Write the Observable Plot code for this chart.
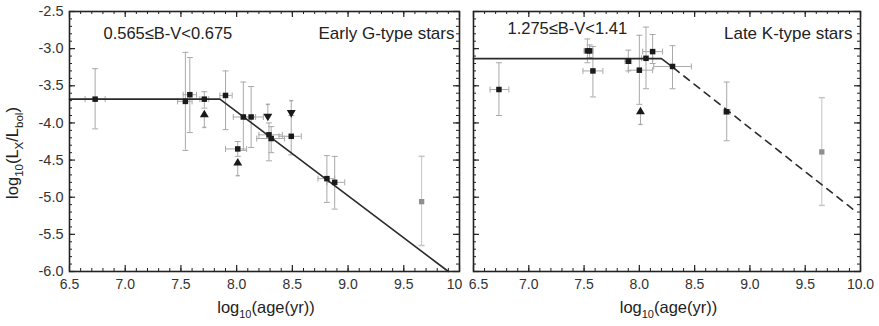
<!DOCTYPE html>
<html><head><meta charset="utf-8">
<script src="https://cdn.jsdelivr.net/npm/d3@7"></script>
<script src="https://cdn.jsdelivr.net/npm/@observablehq/plot@0.6"></script>
<style>
body{margin:0;background:#fff;}
#wrap{position:relative;width:879px;height:326px;font-family:"Liberation Sans",Arial,sans-serif;}
#wrap svg{position:absolute;left:0;top:0;}
</style></head><body><div id="wrap"></div>
<script>
// ---- tick labels ----
const xTicksMajor = [6.5, 7.0, 7.5, 8.0, 8.5, 9.0, 9.5, 10.0];
const xTickLabelsG = ["6.5", "7.0", "7.5", "8.0", "8.5", "9.0", "9.5", "10"];
const xTickLabelsK = ["6.5", "7.0", "7.5", "8.0", "8.5", "9.0", "9.5", "10.0"];
const yTicksMajor = [-2.5, -3.0, -3.5, -4.0, -4.5, -5.0, -5.5, -6.0];
const yTickLabels = ["-2.5", "-3.0", "-3.5", "-4.0", "-4.5", "-5.0", "-5.5", "-6.0"];
const panelRange = ["0.565\u2264B-V<0.675", "1.275\u2264B-V<1.41"];
const panelName = ["Early G-type stars", "Late K-type stars"];

// ---- Early G-type: detections ----
const gAge = [6.73, 7.54, 7.58, 7.71, 7.90, 8.06, 8.13, 8.01, 8.29, 8.31, 8.49, 8.81, 8.88];
const gLx  = [-3.68, -3.71, -3.62, -3.68, -3.63, -3.92, -3.92, -4.35, -4.16, -4.21, -4.18, -4.75, -4.80];
const gYlo = [-4.08, -4.37, -4.13, -3.80, -4.09, -4.37, -4.33, -4.45, -4.51, -4.40, -4.43, -5.07, -5.16];
const gYhi = [-3.27, -3.05, -3.12, -3.58, -3.30, -3.45, -3.51, -4.25, -4.00, -4.05, -3.90, -4.44, -4.45];
const gXlo = [6.64, 7.47, 7.52, 7.67, 7.85, 7.97, 8.07, 7.90, 8.20, 8.18, 8.38, 8.73, 8.81];
const gXhi = [6.82, 7.60, 7.64, 7.75, 7.96, 8.17, 8.24, 8.09, 8.41, 8.43, 8.58, 8.88, 8.97];
// grey (old) point
const gGreyAge = [9.66], gGreyLx = [-5.06], gGreyLo = [-5.65], gGreyHi = [-4.45];
// limits
const gUpAge = [7.71, 8.01], gUpLx = [-3.89, -4.54], gUpTail = [-4.06, -4.71];
const gDnAge = [8.28, 8.49], gDnLx = [-3.91, -3.86], gDnTail = [-3.75, -3.70];
// fit
const gFitX = [6.5, 7.85, 9.90], gFitY = [-3.68, -3.68, -6.0];

// ---- Late K-type ----
const kAge = [6.73, 7.53, 7.55, 7.58, 7.90, 8.00, 8.06, 8.12, 8.30, 8.79];
const kLx  = [-3.55, -3.03, -3.03, -3.30, -3.17, -3.29, -3.13, -3.04, -3.24, -3.85];
const kYlo = [-3.90, -3.19, -3.12, -3.65, -3.30, -3.75, -3.54, -3.20, -3.54, -4.24];
const kYhi = [-3.19, -2.87, -2.95, -2.97, -3.02, -2.82, -2.71, -2.81, -2.96, -3.45];
const kXlo = [6.65, 7.50, 7.53, 7.49, 7.87, 7.90, 8.02, 8.03, 8.13, 8.76];
const kXhi = [6.82, 7.56, 7.58, 7.67, 7.93, 8.12, 8.12, 8.21, 8.47, 8.82];
const kGreyAge = [9.65], kGreyLx = [-4.39], kGreyLo = [-5.11], kGreyHi = [-3.66];
const kUpAge = [8.01], kUpLx = [-3.85], kUpTail = [-4.02];
const kDnAge = [], kDnLx = [], kDnTail = [];
const kFitX = [6.5, 8.20, 8.31], kFitY = [-3.135, -3.135, -3.26];
const kDashX = [8.31, 9.93], kDashY = [-3.26, -5.16];

// ---- helpers ----
const W = 879, H = 326, MT = 11, MB = 55;
const capH = {draw(ctx, size) { const w = Math.sqrt(size / Math.PI); ctx.moveTo(-w, 0); ctx.lineTo(w, 0); }};
const capV = {draw(ctx, size) { const w = Math.sqrt(size / Math.PI); ctx.moveTo(0, -w); ctx.lineTo(0, w); }};
const minorX = d3.range(65, 101).map(d => d / 10);
const minorY = d3.range(-60, -24).map(d => d / 10);
const ERR = "#a9a9a9", INK = "#1a1a1a", LINE = "#2b2b2b";
const FONT = "Liberation Sans, Arial, sans-serif";

function idx(a) { return d3.range(a.length); }

function panel(o) {
  const plotW = W - o.ml - o.mr, plotH = H - MT - MB;
  const n = idx(o.age);
  const xLab = new Map(xTicksMajor.map((d, i) => [d, o.xLabels[i]]));
  const yLab = new Map(yTicksMajor.map((d, i) => [d, yTickLabels[i]]));
  const marks = [
    // error bars (vertical)
    Plot.ruleX(n, {x: i => o.age[i], y1: i => o.ylo[i], y2: i => o.yhi[i], stroke: ERR, strokeWidth: 1}),
    Plot.dot(n, {x: i => o.age[i], y: i => o.ylo[i], symbol: capH, r: 3, stroke: ERR, strokeWidth: 1}),
    Plot.dot(n, {x: i => o.age[i], y: i => o.yhi[i], symbol: capH, r: 3, stroke: ERR, strokeWidth: 1}),
    // error bars (horizontal)
    Plot.ruleY(n, {y: i => o.lx[i], x1: i => o.xlo[i], x2: i => o.xhi[i], stroke: ERR, strokeWidth: 1}),
    Plot.dot(n, {x: i => o.xlo[i], y: i => o.lx[i], symbol: capV, r: 3, stroke: ERR, strokeWidth: 1}),
    Plot.dot(n, {x: i => o.xhi[i], y: i => o.lx[i], symbol: capV, r: 3, stroke: ERR, strokeWidth: 1}),
    // grey point
    Plot.ruleX(idx(o.greyAge), {x: i => o.greyAge[i], y1: i => o.greyLo[i], y2: i => o.greyHi[i], stroke: "#c4c4c4", strokeWidth: 1}),
    Plot.dot(idx(o.greyAge), {x: i => o.greyAge[i], y: i => o.greyLo[i], symbol: capH, r: 3, stroke: "#c4c4c4"}),
    Plot.dot(idx(o.greyAge), {x: i => o.greyAge[i], y: i => o.greyHi[i], symbol: capH, r: 3, stroke: "#c4c4c4"}),
    Plot.dot(idx(o.greyAge), {x: i => o.greyAge[i], y: i => o.greyLx[i], symbol: "square", r: 3, fill: "#8f8f8f"}),
    // limit tails
    Plot.ruleX(idx(o.upAge), {x: i => o.upAge[i], y1: i => o.upLx[i], y2: i => o.upTail[i], stroke: ERR}),
    Plot.dot(idx(o.upAge), {x: i => o.upAge[i], y: i => o.upTail[i], symbol: capH, r: 2, stroke: ERR}),
    Plot.ruleX(idx(o.dnAge), {x: i => o.dnAge[i], y1: i => o.dnLx[i], y2: i => o.dnTail[i], stroke: ERR}),
    Plot.dot(idx(o.dnAge), {x: i => o.dnAge[i], y: i => o.dnTail[i], symbol: capH, r: 2, stroke: ERR}),
    // fit lines
    Plot.line(idx(o.fitX), {x: i => o.fitX[i], y: i => o.fitY[i], stroke: LINE, strokeWidth: 1.6}),
  ];
  if (o.dashX) marks.push(Plot.line(idx(o.dashX), {x: i => o.dashX[i], y: i => o.dashY[i], stroke: LINE, strokeWidth: 1.6, strokeDasharray: "7,6"}));
  const mainTicks = xTicksMajor.filter(d => d !== o.shiftTick);
  marks.push(
    // points
    Plot.dot(n, {x: i => o.age[i], y: i => o.lx[i], symbol: "square", r: 3.1, fill: INK}),
    Plot.dot(idx(o.upAge), {x: i => o.upAge[i], y: i => o.upLx[i], symbol: "triangle", r: 3.3, fill: INK}),
    Plot.dot(idx(o.dnAge), {x: i => o.dnAge[i], y: i => o.dnLx[i], symbol: "triangle", rotate: 180, r: 3.3, fill: INK}),
    // inward ticks
    Plot.tickX(minorX, {x: d => d, insetTop: plotH - 3, stroke: "#222"}),
    Plot.tickX(xTicksMajor, {x: d => d, insetTop: plotH - 6, stroke: "#222", strokeWidth: 1.2}),
    Plot.tickX(minorX, {x: d => d, insetBottom: plotH - 3, stroke: "#222"}),
    Plot.tickX(xTicksMajor, {x: d => d, insetBottom: plotH - 6, stroke: "#222", strokeWidth: 1.2}),
    Plot.tickY(minorY, {y: d => d, insetRight: plotW - 3, stroke: "#222"}),
    Plot.tickY(yTicksMajor, {y: d => d, insetRight: plotW - 6, stroke: "#222", strokeWidth: 1.2}),
    Plot.tickY(minorY, {y: d => d, insetLeft: plotW - 3, stroke: "#222"}),
    Plot.tickY(yTicksMajor, {y: d => d, insetLeft: plotW - 6, stroke: "#222", strokeWidth: 1.2}),
    Plot.frame({stroke: "#222", strokeWidth: 1.6}),
    // axis tick labels
    Plot.axisX({ticks: mainTicks, tickFormat: d => xLab.get(d), tickSize: 0, tickPadding: 8, fontSize: 14, fill: "#333", label: null}),
    Plot.axisX({ticks: [o.shiftTick], tickFormat: d => xLab.get(d), tickSize: 0, tickPadding: 8, fontSize: 14, fill: "#333", label: null, dx: o.shiftDx}),
    // annotations
    Plot.text([o.range], {text: d => d, frameAnchor: "top-left", lineAnchor: "middle", dx: 34, dy: o.rangeY - MT, fontSize: 16.5, fill: "#222"}),
    Plot.text([o.name], {text: d => d, frameAnchor: "top-right", lineAnchor: "middle", dx: o.nameDx, dy: 33 - MT, fontSize: 17, fill: "#222"})
  );
  if (o.yAxis) marks.push(Plot.axisY({ticks: yTicksMajor, tickFormat: d => yLab.get(d), tickSize: 0, tickPadding: 6, fontSize: 14.5, fill: "#333", label: null}));
  else marks.push(Plot.axisY({ticks: [], label: null}));
  const svg = Plot.plot({
    width: W, height: H,
    marginLeft: o.ml, marginRight: o.mr, marginTop: MT, marginBottom: MB,
    style: {background: "transparent", fontFamily: FONT, overflow: "visible"},
    x: {domain: [6.5, 10], label: null},
    y: {domain: [-6, -2.5], label: null},
    marks
  });
  const s = d3.select(svg);
  // x axis title with subscript
  const xt = s.append("text").attr("x", o.ml + plotW / 2 + 2).attr("y", 313)
    .attr("text-anchor", "middle").attr("font-size", 16.5).attr("fill", "#222")
    .attr("font-family", FONT);
  xt.append("tspan").text("log");
  xt.append("tspan").attr("font-size", 11).attr("dy", 5).text("10");
  xt.append("tspan").attr("dy", -5).text("(age(yr))");
  if (o.yAxis) {
    const yt = s.append("text").attr("transform", "translate(18,153) rotate(-90)")
      .attr("text-anchor", "middle").attr("font-size", 16.5).attr("fill", "#222")
      .attr("font-family", FONT);
    yt.append("tspan").text("log");
    yt.append("tspan").attr("font-size", 11.5).attr("dy", 5).text("10");
    yt.append("tspan").attr("dy", -5).text("(L");
    yt.append("tspan").attr("font-size", 11.5).attr("dy", 5).text("X");
    yt.append("tspan").attr("dy", -5).text("/L");
    yt.append("tspan").attr("font-size", 11.5).attr("dy", 5).text("bol");
    yt.append("tspan").attr("dy", -5).text(")");
  }
  return svg;
}

const wrap = document.getElementById("wrap");
wrap.appendChild(panel({
  ml: 69, mr: 420, yAxis: true, xLabels: xTickLabelsG, shiftTick: 10.0, shiftDx: -5,
  age: gAge, lx: gLx, ylo: gYlo, yhi: gYhi, xlo: gXlo, xhi: gXhi,
  greyAge: gGreyAge, greyLx: gGreyLx, greyLo: gGreyLo, greyHi: gGreyHi,
  upAge: gUpAge, upLx: gUpLx, upTail: gUpTail, dnAge: gDnAge, dnLx: gDnLx, dnTail: gDnTail,
  fitX: gFitX, fitY: gFitY, range: panelRange[0], name: panelName[0], rangeY: 33, nameDx: -5
}));
wrap.appendChild(panel({
  ml: 473, mr: 19, yAxis: false, xLabels: xTickLabelsK, shiftTick: 6.5, shiftDx: 5,
  age: kAge, lx: kLx, ylo: kYlo, yhi: kYhi, xlo: kXlo, xhi: kXhi,
  greyAge: kGreyAge, greyLx: kGreyLx, greyLo: kGreyLo, greyHi: kGreyHi,
  upAge: kUpAge, upLx: kUpLx, upTail: kUpTail, dnAge: kDnAge, dnLx: kDnLx, dnTail: kDnTail,
  fitX: kFitX, fitY: kFitY, dashX: kDashX, dashY: kDashY,
  range: panelRange[1], name: panelName[1], rangeY: 28, nameDx: -8
}));
</script></body></html>
